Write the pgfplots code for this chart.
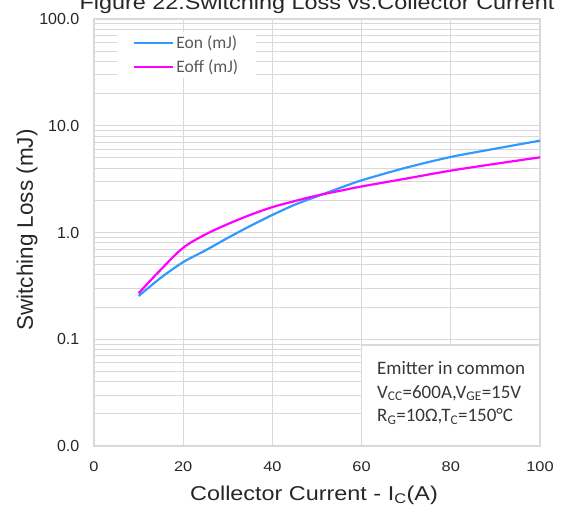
\documentclass[border=0pt]{standalone}
\usepackage{pgfplots}
\pgfplotsset{compat=1.18}
\usepackage{fontspec}
\setmainfont{Liberation Sans}[FakeStretch=1.17]
\newfontfamily\ylabfont{Liberation Sans}
\newfontfamily\carlito{Carlito}
\definecolor{eonblue}{RGB}{51,153,255}
\definecolor{eoffpink}{RGB}{255,0,255}
\definecolor{gridgray}{RGB}{217,217,217}
\definecolor{legtext}{RGB}{89,89,89}
\definecolor{annot}{RGB}{55,55,55}
\begin{document}
\begin{tikzpicture}
\begin{axis}[
  at={(0pt,0pt)}, anchor=south west,
  scale only axis, width=446pt, height=427pt,
  xmin=0, xmax=100, ymin=0.01, ymax=100, ymode=log,
  xtick={0,20,40,60,80,100},
  ytick={0.01,0.1,1,10,100},
  yticklabels={0.0,0.1,1.0,10.0,100.0},
  minor ytick={0.02,0.03,0.04,0.05,0.06,0.07,0.08,0.09,
               0.2,0.3,0.4,0.5,0.6,0.7,0.8,0.9,
               2,3,4,5,6,7,8,9,20,30,40,50,60,70,80,90},
  grid=both,
  major grid style={draw=gridgray, line width=1.3pt},
  minor grid style={draw=gridgray, line width=1pt},
  axis line style={draw=gridgray, line width=1.3pt},
  major tick length=0pt, minor tick length=0pt,
  tick style={draw=none},
  /pgf/number format/assume math mode=true,
  xticklabel style={font=\fontsize{14}{14}\selectfont, text=black!85,
                    anchor=north, inner sep=0pt, yshift=-16pt},
  yticklabel style={font=\ylabfont\fontsize{16}{16}\selectfont, text=black!85,
                    anchor=east, inner sep=0pt, xshift=-14.5pt},
  xlabel={Collector Current - I\textsubscript{C}(A)},
  xlabel style={at={(axis description cs:0.4933,-0.1265)}, anchor=base,
                font=\fontsize{20}{20}\selectfont, text=black!85},
  ylabel={\ylabfont\fontsize{22.5}{22.5}\selectfont Switching Loss (mJ)},
  ylabel style={at={(axis description cs:-0.1368,0.506)}, anchor=base, text=black!85},
  legend style={at={(axis description cs:0.0516,0.9696)}, anchor=north west,
                draw=none, fill=white, inner xsep=16pt, inner ysep=2pt,
                font=\carlito\fontsize{17.5}{20}\selectfont, row sep=5pt,
                cells={anchor=west}},
  legend image code/.code={\draw[#1] (0pt,0pt) -- (39pt,0pt);},
]
\addplot[eonblue, line width=2.2pt, smooth] coordinates {
  (10,0.254) (15,0.377) (20,0.528) (25,0.68) (30,0.89) (35,1.15) (40,1.46)
  (45,1.82) (50,2.18) (55,2.6) (60,3.08) (70,4.05) (80,5.1) (90,6.1) (100,7.25)};
\addlegendentry{\textcolor{legtext}{Eon (mJ)}}
\addplot[eoffpink, line width=2.2pt, smooth] coordinates {
  (10,0.27) (15,0.45) (20,0.72) (25,0.96) (30,1.2) (35,1.46) (40,1.73)
  (45,1.97) (50,2.22) (55,2.45) (60,2.7) (70,3.2) (80,3.8) (90,4.4) (100,5.06)};
\addlegendentry{\textcolor{legtext}{Eoff (mJ)}}
\draw[draw=gridgray, fill=white, line width=1.3pt] (axis cs:60,0.01) rectangle (rel axis cs:1,0.2365);
\node[anchor=base west, inner sep=0pt, font=\carlito\fontsize{19}{19}\selectfont, text=annot]
  at (rel axis cs:0.6345,0.1663) {Emitter in common};
\node[anchor=base west, inner sep=0pt, font=\carlito\fontsize{19}{19}\selectfont, text=annot]
  at (rel axis cs:0.6345,0.1124) {V\textsubscript{CC}=600A,V\textsubscript{GE}=15V};
\node[anchor=base west, inner sep=0pt, font=\carlito\fontsize{19}{19}\selectfont, text=annot]
  at (rel axis cs:0.6345,0.0569) {R\textsubscript{G}=10Ω,T\textsubscript{C}=150°C};
\end{axis}
\node[anchor=base, inner sep=0pt, font=\fontsize{20}{20}\selectfont, text=black!85]
  at (223pt,436.5pt) {Figure 22.Switching Loss vs.Collector Current};
\pgfresetboundingbox
\useasboundingbox (-94pt,-64pt) rectangle (471pt,446pt);
\end{tikzpicture}
\end{document}
